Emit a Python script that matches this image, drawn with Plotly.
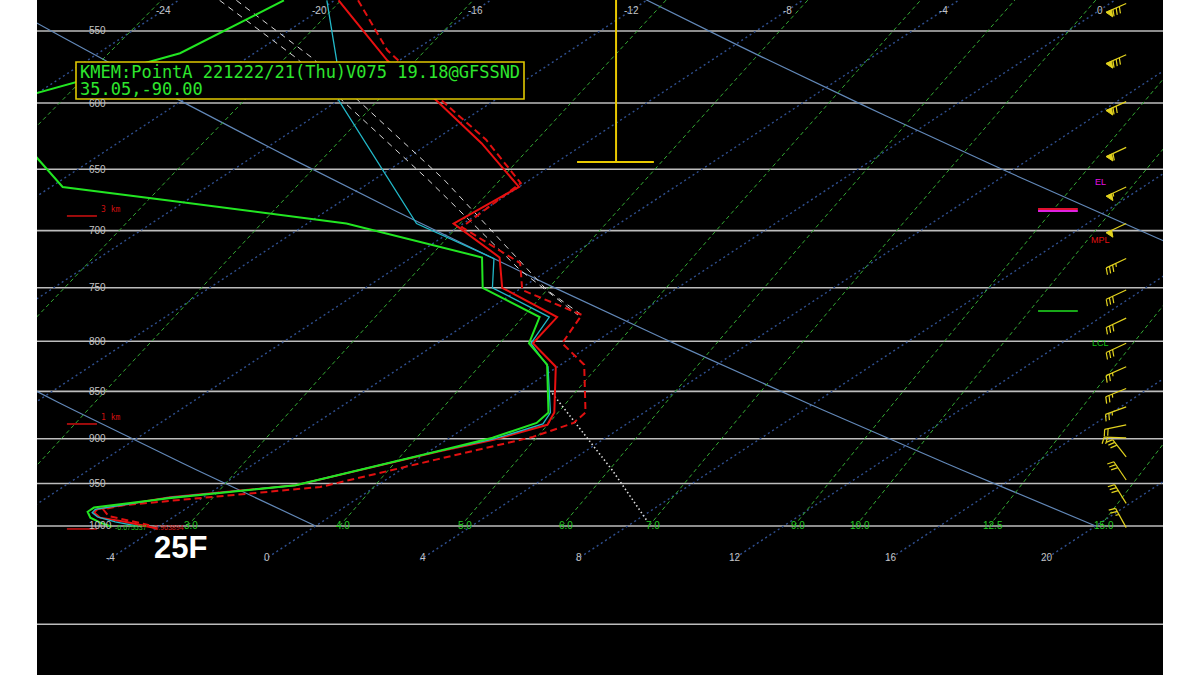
import numpy as np
import plotly.graph_objects as go

# ---------------- data ----------------
isobar_levels = [550, 600, 650, 700, 750, 800, 850, 900, 950, 1000]
frame_level = 1126
isotherm_values = list(range(-40, 28, 4))
top_temp_labels = [-24, -20, -16, -12, -8, -4, 0]
bottom_temp_labels = [-4, 0, 4, 8, 12, 16, 20]
mixing_ratios = [1, 1.5, 2, 3, 4, 5, 6, 7, 9, 10, 12.5, 15]
mixing_labels = {3: "3.0", 4: "4.0", 5: "5.0", 6: "6.0", 7: "7.0", 9: "9.0",
                 10: "10.0", 12.5: "12.5", 15: "15.0"}
dry_adiabat_theta_c = [0, 20, 40]

# temperature (red solid)
temp_p = [530, 570, 598, 630, 664, 694, 723, 750, 777, 802, 825, 872, 885, 901,
          914, 952, 966, 980, 984, 990, 995, 1003]
temp_t = [-19.9, -16.3, -13.5, -10.65, -8.0, -8.25, -5.75, -4.5, -1.95, -1.55,
          -0.05, 1.7, 2.0, 1.2, 0.25, -2.1, -4.85, -6.25, -6.2, -5.85, -5.05, -3.96]
# dewpoint (green solid)
dewp_p = [530, 565, 602, 664, 675, 694, 723, 750, 777, 802, 823, 872, 883, 899,
          914, 952, 967, 978, 983, 990, 996, 1001]
dewp_t = [-21.3, -21.9, -24.7, -19.7, -16.45, -11.0, -6.2, -5.0, -2.4, -1.65,
          -0.35, 1.55, 1.65, 1.1, 0.2, -2.1, -4.85, -6.4, -6.4, -6.1, -5.65, -5.2]
# wet bulb (cyan)
wetb_p = [530, 570, 598, 694, 724, 750, 777, 802, 825, 872, 884, 900, 914, 952,
          966, 980, 984, 989, 995, 1000]
wetb_t = [-20.2, -17.6, -16.0, -9.2, -5.85, -4.75, -2.15, -1.6, -0.25, 1.6, 1.85,
          1.2, 0.2, -2.1, -4.85, -6.3, -6.25, -5.95, -5.3, -4.6]
# second temperature trace (red dashed)
temp2_p = [530, 563, 603, 627, 661, 697, 728, 752, 775, 802, 823, 872, 883, 898,
           923, 954, 975, 980, 988, 999]
temp2_t = [-19.4, -16.7, -12.9, -10.7, -8.1, -7.9, -5.0, -3.9, -1.4, -0.8, 0.6,
           2.5, 2.6, 2.1, 0.5, -1.4, -5.7, -6.1, -5.7, -4.3]
# parcel traces (white dashed)
parcel1_p = [530, 568, 658, 734, 775]
parcel1_t = [-22.95, -18.76, -10.63, -4.74, -1.50]
parcel2_p = [530, 568, 658, 752, 774]
parcel2_t = [-22.52, -18.35, -10.22, -3.27, -1.48]
# moist adiabat (white dotted)
moist_p = [852, 935, 993]
moist_t = [0.9, 5.44, 8.26]

# wind barbs
wind_p = [532, 566, 599, 633, 664, 694, 724, 752, 778, 802, 825, 847, 866,
          885, 899, 920, 946, 973, 1002]
wind_dir = [246, 246, 246, 245, 245, 245, 245, 245, 245, 245, 246, 248, 250,
            258, 272, 322, 326, 328, 331]
wind_spd = [80, 80, 70, 60, 55, 50, 35, 30, 30, 30, 25, 25, 25, 20, 20, 30, 30,
            30, 25]

# height markers and parcel levels
km_p = [1003.6, 884.1, 687.7]
km_text = ["", "1 km", "3 km"]
el_line_p = [681.9, 683.5]
lcl_line_p = 771.3
level_labels = [("EL", 660.0, "#e010e0"), ("MPL", 708.0, "#e01010"), ("LCL", 801.7, "#10c010")]
cap_top_p, cap_p = 529.8, 644.3
cap_x, cap_x0, cap_x1 = 8.95, 7.95, 9.92

title_line1 = "KMEM:PointA 221222/21(Thu)V075 19.18@GFSSND"
title_line2 = "35.05,-90.00"
sfc_td_text = "-6.675537"
sfc_t_text = "-3.963894"
big_label = "25F"

# ---------------- skew-T geometry ----------------
SKEW = 32.27
P_BASE = 1039.4
X0, X1 = -5.897, 22.974
P_TOP, P_BOT = 529.8, 1197.2
PX_X = 1126 / (X1 - X0)
PX_LN = 675 / np.log(P_BOT / P_TOP)
BARB_X = 22.03
KM_X0, KM_X1 = -5.13, -4.36
MARK_X0, MARK_X1 = 19.77, 20.79


def skx(t, p):
    return np.asarray(t, float) + SKEW * np.log(P_BASE / np.asarray(p, float))


def px_paper_x(px):
    return (px - 37) / 1126


def px_paper_y(py):
    return 1 - py / 675


fig = go.Figure()


def line(x, y, color, width=1.0, dash="solid", fill=None):
    fig.add_trace(go.Scatter(x=x, y=y, mode="lines", hoverinfo="skip",
                             line=dict(color=color, width=width, dash=dash),
                             fill=fill, fillcolor=color if fill else None))


# isobars
for p in isobar_levels + [frame_level]:
    line([X0, X1], [p, p], "#bdbdbd", 1.6)

# isotherms
for t in isotherm_values:
    pp = np.array([1042.0, 520.0])
    line(skx([t, t], pp), pp, "#2f4f8f", 1.4, "2px,3px")

# dry adiabats
pp = np.linspace(1000, 520, 60)
for th in dry_adiabat_theta_c:
    tt = (th + 273.15) * (pp / 1000.0) ** 0.286 - 273.15
    line(skx(tt, pp), pp, "#6288b8", 1.2)

# mixing ratio lines
for w in mixing_ratios:
    e = w * pp / (622.0 + w)
    ln = np.log(e / 6.112)
    tt = 243.5 * ln / (17.67 - ln)
    line(skx(tt, pp), pp, "#34aa34", 1.0, "4px,3px")

# profiles
line(skx(parcel1_t, parcel1_p), parcel1_p, "#d8d8d8", 1.0, "6px,5px")
line(skx(parcel2_t, parcel2_p), parcel2_p, "#d8d8d8", 1.0, "6px,5px")
line(skx(moist_t, moist_p), moist_p, "#dcdcdc", 1.6, "1.5px,2.5px")
line(skx(temp2_t, temp2_p), temp2_p, "#e01010", 2.0, "7px,4px")
line(skx(temp_t, temp_p), temp_p, "#e81010", 2.0)
line(skx(wetb_t, wetb_p), wetb_p, "#22b8c8", 1.3)
line(skx(dewp_t, dewp_p), dewp_p, "#22e622", 2.0)

# cap marker (yellow)
line([cap_x, cap_x], [cap_top_p, cap_p], "#e8c800", 2.0)
line([cap_x0, cap_x1], [cap_p, cap_p], "#e8c800", 2.0)

# height markers
for p in km_p:
    line([KM_X0, KM_X1], [p, p], "#d01010", 1.5)
# EL / LCL markers
line([MARK_X0, MARK_X1], [el_line_p[0], el_line_p[0]], "#e01030", 2.0)
line([MARK_X0, MARK_X1], [el_line_p[1], el_line_p[1]], "#e020e0", 2.0)
line([MARK_X0, MARK_X1], [lcl_line_p, lcl_line_p], "#20e020", 1.6)


# wind barbs
def off(p0, dx, dy):
    return BARB_X + dx / PX_X, p0 * np.exp(-dy / PX_LN)


bx, by, fx, fy = [], [], [], []
L, SP, FL = 22.0, 3.5, 7.0
for p0, d, s in zip(wind_p, wind_dir, wind_spd):
    r = np.deg2rad(d)
    u = np.array([np.sin(r), np.cos(r)])
    a = np.deg2rad(75)
    f = np.array([u[0] * np.cos(a) - u[1] * np.sin(a), u[0] * np.sin(a) + u[1] * np.cos(a)])
    for pt in (np.zeros(2), L * u):
        X, P = off(p0, *pt)
        bx.append(X); by.append(P)
    bx.append(None); by.append(None)
    pos = L
    n50 = s // 50
    rem = s - 50 * n50
    n10 = rem // 10
    n5 = 1 if rem - 10 * n10 >= 5 else 0
    for _ in range(n50):
        A = pos * u
        B = (pos - 6) * u
        C = B + 7 * f
        for pt in (A, B, C, A):
            X, P = off(p0, *pt)
            fx.append(X); fy.append(P)
        fx.append(None); fy.append(None)
        pos -= 7.5
    for _ in range(n10):
        for pt in (pos * u, pos * u + FL * f):
            X, P = off(p0, *pt)
            bx.append(X); by.append(P)
        bx.append(None); by.append(None)
        pos -= SP
    if n5:
        for pt in (pos * u, pos * u + 0.5 * FL * f):
            X, P = off(p0, *pt)
            bx.append(X); by.append(P)
        bx.append(None); by.append(None)

fig.add_trace(go.Scatter(x=bx, y=by, mode="lines", hoverinfo="skip",
                         line=dict(color="#e2d21e", width=1.2)))
fig.add_trace(go.Scatter(x=fx, y=fy, mode="lines", hoverinfo="skip", fill="toself",
                         fillcolor="#e2d21e", line=dict(color="#e2d21e", width=1)))

ann = []
grey = "#c4c4c4"
for p in isobar_levels:
    ann.append(dict(x=px_paper_x(87), xref="paper", y=np.log10(p), yref="y",
                    text=str(p), showarrow=False, xanchor="left", yanchor="middle",
                    font=dict(family="Liberation Sans, Arial", size=10, color=grey)))
p_toplab = P_TOP * np.exp(10 / PX_LN)
for t in top_temp_labels:
    ann.append(dict(x=float(skx(t, p_toplab)), xref="x", y=np.log10(p_toplab), yref="y",
                    text=str(t), showarrow=False, xanchor="center", yanchor="middle",
                    font=dict(family="Liberation Sans, Arial", size=10, color=grey)))
p_botlab = 1000 * np.exp(32 / PX_LN)
for t in bottom_temp_labels:
    ann.append(dict(x=float(skx(t, p_botlab)), xref="x", y=np.log10(p_botlab), yref="y",
                    text=str(t), showarrow=False, xanchor="center", yanchor="middle",
                    font=dict(family="Liberation Sans, Arial", size=10, color=grey)))
for w, lab in mixing_labels.items():
    e = w * 1000 / (622.0 + w)
    ln = np.log(e / 6.112)
    t = 243.5 * ln / (17.67 - ln)
    ann.append(dict(x=float(skx(t, 1000)) + 0.1, xref="x", y=3.0, yref="y", text=lab,
                    showarrow=False, xanchor="center", yanchor="middle",
                    font=dict(family="Liberation Sans, Arial", size=10, color="#22c822")))
for p, txt in zip(km_p, km_text):
    if txt:
        ann.append(dict(x=KM_X1 + 0.05, xref="x", y=np.log10(p), yref="y", text=txt,
                        showarrow=False, xanchor="left", yanchor="bottom",
                        font=dict(family="DejaVu Sans Mono", size=8, color="#d01010")))
for txt, p, col in level_labels:
    ann.append(dict(x=BARB_X - 0.65, xref="x", y=np.log10(p), yref="y", text=txt,
                    showarrow=False, xanchor="center", yanchor="middle",
                    font=dict(family="Liberation Sans, Arial", size=9, color=col)))
ann.append(dict(x=px_paper_x(113), xref="paper", y=px_paper_y(527), yref="paper",
                text=sfc_td_text, showarrow=False, xanchor="left", yanchor="middle",
                font=dict(family="Liberation Sans, Arial", size=7, color="#22c822")))
ann.append(dict(x=px_paper_x(150), xref="paper", y=px_paper_y(527), yref="paper",
                text=sfc_t_text, showarrow=False, xanchor="left", yanchor="middle",
                font=dict(family="Liberation Sans, Arial", size=7, color="#d81818")))
ann.append(dict(x=px_paper_x(180), xref="paper", y=px_paper_y(547), yref="paper",
                text="<b>" + big_label + "</b>", showarrow=False, xanchor="center",
                yanchor="middle",
                font=dict(family="Liberation Sans, Arial", size=31, color="white")))
ann.append(dict(x=px_paper_x(78), xref="paper", y=px_paper_y(71.5), yref="paper",
                text=title_line1, showarrow=False, xanchor="left", yanchor="middle",
                font=dict(family="DejaVu Sans Mono", size=17, color="#2ee62e")))
ann.append(dict(x=px_paper_x(78), xref="paper", y=px_paper_y(89), yref="paper",
                text=title_line2, showarrow=False, xanchor="left", yanchor="middle",
                font=dict(family="DejaVu Sans Mono", size=17, color="#2ee62e")))

shapes = [dict(type="rect", xref="paper", yref="paper",
               x0=px_paper_x(76), x1=px_paper_x(524), y0=px_paper_y(99), y1=px_paper_y(62),
               line=dict(color="#e0c800", width=1.6), fillcolor="black", layer="above")]

fig.update_layout(
    width=1200, height=675, margin=dict(l=37, r=37, t=0, b=0),
    paper_bgcolor="white", plot_bgcolor="black", showlegend=False,
    xaxis=dict(range=[X0, X1], visible=False, fixedrange=True),
    yaxis=dict(type="log", range=[np.log10(P_BOT), np.log10(P_TOP)], visible=False,
               fixedrange=True),
    annotations=ann, shapes=shapes, hovermode=False,
)

fig.write_html("out.html", config={"displayModeBar": False},
               post_script="document.body.style.margin='0px';document.body.style.overflow='hidden';")
